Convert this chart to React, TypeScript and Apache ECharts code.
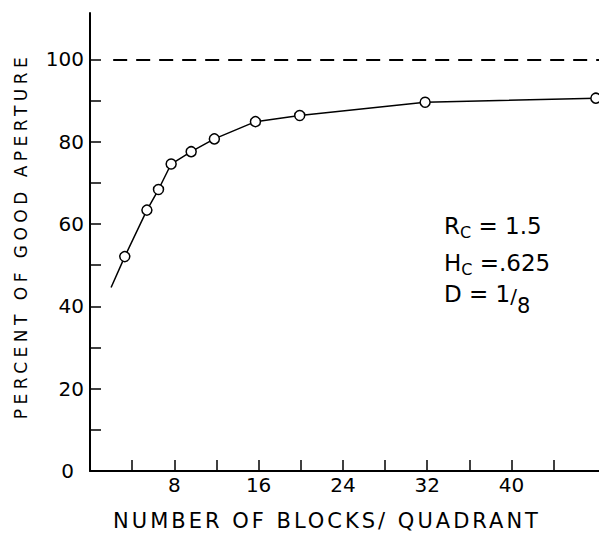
import React, { useEffect, useRef } from "react";
import * as echarts from "echarts";

const blocks = [2, 3.3, 5.4, 6.5, 7.7, 9.6, 11.8, 15.7, 19.9, 31.8, 48];
const percent = [44.6, 52.1, 63.4, 68.4, 74.6, 77.6, 80.7, 84.9, 86.4, 89.6, 90.6];
const xTickValues = [4, 8, 12, 16, 20, 24, 28, 32, 36, 40, 44];
const xLabelValues = [8, 16, 24, 32, 40];
const yTickValues = [0, 10, 20, 30, 40, 50, 60, 70, 80, 90, 100];
const yLabelValues = [0, 20, 40, 60, 80, 100];
const referenceLevel = 100;
const referenceFrom = 2.2;
const yTitle = "PERCENT OF GOOD APERTURE";
const xTitle = "NUMBER OF BLOCKS/ QUADRANT";

const FONT = "DejaVu Sans";

export default function App() {
  const ref = useRef<HTMLDivElement>(null);
  useEffect(() => {
    if (!ref.current) return;
    const chart = echarts.init(ref.current, undefined, { renderer: "svg" });
    const xMax = 48.3;
    const option: any = {
      animation: false,
      backgroundColor: "#fff",
      grid: { left: 90, right: 0, top: 13, bottom: 64 },
      xAxis: {
        type: "value",
        min: 0,
        max: xMax,
        axisLine: { show: true, lineStyle: { color: "#000", width: 2 } },
        axisTick: {
          show: true,
          inside: true,
          length: 11,
          customValues: xTickValues,
          lineStyle: { color: "#000", width: 1.5 },
        },
        axisLabel: {
          customValues: xLabelValues,
          color: "#000",
          fontSize: 20,
          fontFamily: FONT,
          margin: 4,
        },
        splitLine: { show: false },
      },
      yAxis: {
        type: "value",
        min: 0,
        max: 111.3,
        axisLine: { show: true, lineStyle: { color: "#000", width: 2 } },
        axisTick: {
          show: true,
          inside: true,
          length: 11,
          customValues: yTickValues,
          lineStyle: { color: "#000", width: 1.5 },
        },
        axisLabel: {
          customValues: yLabelValues,
          color: "#000",
          fontSize: 20,
          fontFamily: FONT,
          margin: 6,
          formatter: (v: number) => (v === 0 ? "{z|0}" : String(v)),
          rich: { z: { fontSize: 20, fontFamily: FONT, color: "#000", padding: [0, 10, 0, 0] } },
        },
        splitLine: { show: false },
      },
      series: [
        {
          type: "line",
          data: blocks.map((x, i) =>
            i === 0 ? { value: [x, percent[i]], symbol: "none" } : [x, percent[i]]
          ),
          symbol: "circle",
          symbolSize: 10,
          showAllSymbol: true,
          itemStyle: { color: "#fff", borderColor: "#000", borderWidth: 1.5 },
          lineStyle: { color: "#000", width: 1.5 },
          z: 3,
          markLine: {
            silent: true,
            symbol: "none",
            label: { show: false },
            lineStyle: { color: "#000", width: 2, type: [14, 9] },
            data: [[{ coord: [referenceFrom, referenceLevel] }, { coord: [xMax, referenceLevel] }]],
          },
        },
      ],
      graphic: [
        {
          type: "text",
          x: 21,
          y: 236,
          rotation: Math.PI / 2,
          style: {
            text: yTitle,
            fontSize: 17,
            fontFamily: FONT,
            fill: "#000",
            align: "center",
            verticalAlign: "middle",
          },
        },
        {
          type: "text",
          x: 327,
          y: 521,
          style: {
            text: xTitle,
            fontSize: 21,
            fontFamily: FONT,
            fill: "#000",
            align: "center",
            verticalAlign: "middle",
          },
        },
        {
          type: "text",
          x: 444,
          y: 212,
          style: {
            text: "{a|R}{b|C}{a| = 1.5}",
            align: "left",
            verticalAlign: "top",
            rich: {
              a: { fontSize: 23, fontFamily: FONT, fill: "#000", lineHeight: 28 },
              b: { fontSize: 16, fontFamily: FONT, fill: "#000", lineHeight: 16, verticalAlign: "bottom" },
            },
          },
        },
        {
          type: "text",
          x: 444,
          y: 249,
          style: {
            text: "{a|H}{b|C}{a| =.625}",
            align: "left",
            verticalAlign: "top",
            rich: {
              a: { fontSize: 23, fontFamily: FONT, fill: "#000", lineHeight: 28 },
              b: { fontSize: 16, fontFamily: FONT, fill: "#000", lineHeight: 16, verticalAlign: "bottom" },
            },
          },
        },
        {
          type: "text",
          x: 444,
          y: 282,
          style: {
            text: "{a|D = 1}{s|/}{b|8}",
            align: "left",
            verticalAlign: "top",
            rich: {
              a: { fontSize: 23, fontFamily: FONT, fill: "#000", lineHeight: 28, verticalAlign: "top" },
              s: { fontSize: 20, fontFamily: FONT, fill: "#000", lineHeight: 28 },
              b: { fontSize: 21, fontFamily: FONT, fill: "#000", lineHeight: 24, verticalAlign: "bottom", padding: [0, 0, -6, 0] },
            },
          },
        },
      ],
    };
    chart.setOption(option);
    const svg = ref.current.querySelector("svg");
    if (svg) {
      svg.querySelectorAll("text").forEach((t) => {
        if (t.textContent === yTitle) t.setAttribute("letter-spacing", "4.5");
        if (t.textContent === xTitle) t.setAttribute("letter-spacing", "3");
      });
    }
    return () => chart.dispose();
  }, []);
  return (
    <div
      ref={ref}
      style={{ position: "absolute", left: 0, top: 0, width: 599, height: 535, background: "#fff" }}
    />
  );
}
